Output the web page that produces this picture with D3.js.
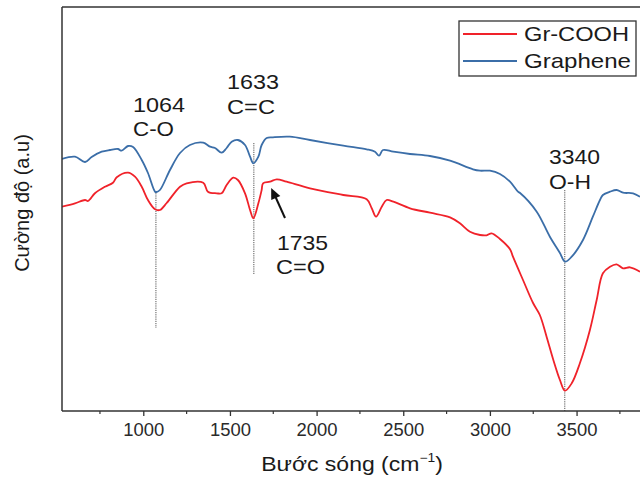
<!DOCTYPE html>
<html><head><meta charset="utf-8">
<script src="https://cdn.jsdelivr.net/npm/d3@7"></script>
<style>
html,body{margin:0;padding:0;background:#fff;}
svg{display:block;font-family:"Liberation Sans",Arial,sans-serif;}
</style></head>
<body>
<svg id="chart" width="640" height="481"></svg>
<script>
// ---- data ----
const grapheneWave = [531,606,664,702,760,808,854,875,912,941,991,1027,1068,1076,1096,1154,1212,1269,1346,1385,1414,1452,1481,1510,1546,1587,1616,1635,1664,1683,1712,1748,1846,1962,2154,2289,2337,2360,2383,2443,2539,2654,2770,2902,2943,3000,3058,3116,3162,3174,3270,3346,3404,3433,3472,3537,3594,3635,3652,3693,3731,3768,3826,3866];
const grapheneVal  = [252,254.3,249,254,259.3,261,262,260.3,265,264,251,238,219.3,219,221,241,258,266,268.3,264.3,263,258.3,263,269.3,271,266,254.3,247.7,254.3,266,273,273.7,274.3,271,265.3,261.7,259.3,255.3,261,259.3,257,255,250.3,241.7,240.3,240.3,237,229.3,219.3,218,199.3,174.3,158,149.3,154.3,171,194.3,211,216,219.3,221,218.3,217.7,214.3];
const grCoohWave = [531,606,664,681,721,779,825,847,912,952,991,1027,1068,1096,1135,1212,1250,1346,1373,1424,1452,1481,1519,1546,1587,1616,1635,1664,1683,1691,1731,1770,1827,1962,2154,2289,2318,2343,2376,2404,2443,2539,2654,2770,2827,2885,2943,2981,3010,3058,3116,3133,3191,3249,3288,3327,3366,3404,3433,3472,3519,3577,3616,3652,3693,3731,3768,3808,3866];
const grCoohVal  = [204.3,207.7,211,210,217.7,224.3,228.3,233.7,238.3,234.3,224.3,211,201.7,201,208,224.3,227.7,228.3,219.3,217.7,217.7,226,233.3,231,217.7,201,192.7,207.7,221,227.7,229.3,231.7,229.3,222.7,216,211.7,202.7,194.3,204.3,211,209.3,202.7,198.3,193.7,187.7,179.3,176,175.7,177.7,172,161.7,154.3,131,108,96,74.3,51,31,20.3,27.7,47.7,81,111,137.7,144.3,146.7,142.7,143.7,139.3];
const seriesNames = ["Gr-COOH","Graphene"];
const xTicks = [1000,1500,2000,2500,3000,3500];
const xMinorTicks = [750,1250,1750,2250,2750,3250,3750];
const peakWave   = [1073,1638,3432];
const peakLabel  = ["1064","1633","3340"];
const peakBond   = ["C-O","C=C","O-H"];
const peakLineTop = [220,268,221];   // data units on intensity scale
const peakLineBottom = [83,137,0];
const annoWave = 1735, annoLabel = "1735", annoBond = "C=O";

// ---- layout ----
const L = 62, R = 640, T = 7, B = 411;
const svg = d3.select("#chart");
const x = d3.scaleLinear().domain([531, 3866]).range([L, R]);
const y = d3.scaleLinear().domain([0, 404]).range([B, T]);
const ink = "#1a1a1a";

svg.append("defs").append("clipPath").attr("id","clip")
  .append("rect").attr("x",L).attr("y",T).attr("width",R-L+5).attr("height",B-T);

// dotted peak lines
const peakG = svg.append("g");
peakWave.forEach((w,i)=>{
  peakG.append("line")
    .attr("x1",x(w)).attr("x2",x(w))
    .attr("y1",y(peakLineTop[i])).attr("y2",y(peakLineBottom[i]))
    .attr("stroke","#555").attr("stroke-width",1).attr("stroke-dasharray","1.2,1");
});

// curves
const line = d3.line().x(d=>x(d[0])).y(d=>y(d[1])).curve(d3.curveCatmullRom.alpha(0.5));
const curves = svg.append("g").attr("clip-path","url(#clip)");
curves.append("path").datum(d3.zip(grapheneWave, grapheneVal))
  .attr("d",line).attr("fill","none").attr("stroke","#3b6ea8").attr("stroke-width",1.8);
curves.append("path").datum(d3.zip(grCoohWave, grCoohVal))
  .attr("d",line).attr("fill","none").attr("stroke","#f0222a").attr("stroke-width",1.8);

// frame (left, top) and axis
svg.append("line").attr("x1",L).attr("x2",R).attr("y1",T).attr("y2",T).attr("stroke","#333").attr("stroke-width",1.5);
svg.append("line").attr("x1",L).attr("x2",L).attr("y1",T).attr("y2",B).attr("stroke","#333").attr("stroke-width",1.5);

const xAxis = d3.axisBottom(x).tickValues(xTicks).tickFormat(d3.format("d")).tickSize(5).tickSizeOuter(0).tickPadding(7);
const ax = svg.append("g").attr("transform",`translate(0,${B})`).call(xAxis);
ax.select(".domain").attr("stroke","#333").attr("stroke-width",1.5).attr("d",`M${L},0H${R+5}`);
ax.selectAll(".tick line").attr("stroke","#333").attr("stroke-width",1.3);
ax.selectAll(".tick text").attr("font-size",18).attr("fill","#2a2a2a").attr("font-family","Liberation Sans, Arial, sans-serif")
  .attr("textLength",41).attr("lengthAdjust","spacingAndGlyphs");
svg.append("g").attr("transform",`translate(0,${B})`)
  .selectAll("line").data(xMinorTicks).join("line")
  .attr("x1",d=>x(d)).attr("x2",d=>x(d)).attr("y1",0).attr("y2",3)
  .attr("stroke","#333").attr("stroke-width",1.2);

// axis titles
const xt = svg.append("text").attr("transform","translate(352,471) scale(1.15,1)").attr("text-anchor","middle")
  .attr("font-size",20).attr("fill",ink);
xt.append("tspan").text("Bước sóng (cm");
xt.append("tspan").attr("font-size",12).attr("dy",-9).text("−1");
xt.append("tspan").attr("dy",9).text(")");

svg.append("text").attr("transform","translate(29,203) rotate(-90)").attr("text-anchor","middle")
  .attr("font-size",20).attr("fill",ink).text("Cường độ (a.u)");

// helper for stretched labels
function label(tx, tx0, ty, w){
  svg.append("text").attr("x",tx0).attr("y",ty).attr("font-size",21).attr("fill",ink)
    .attr("textLength",w).attr("lengthAdjust","spacingAndGlyphs").text(tx);
}
// peak annotations
const labelPos = [[133,112,136,52,41],[227,89,114,52,48],[549,164,189,51,42]];
peakWave.forEach((w,i)=>{
  const [lx, y1, y2, w1, w2] = labelPos[i];
  label(peakLabel[i], lx, y1, w1);
  label(peakBond[i], lx, y2, w2);
});
label(annoLabel, 277, 250, 51);
label(annoBond, 276, 274, 49);

// arrow to 1735 shoulder
const tipX = x(annoWave) + 0.5, tipY = 188;
svg.append("line").attr("x1",285).attr("y1",218).attr("x2",tipX+3).attr("y2",tipY+6)
  .attr("stroke","#111").attr("stroke-width",2);
{
  const ang = Math.atan2(tipY-218, tipX-285);
  const len = 11, wid = 5;
  const bx = tipX - len*Math.cos(ang), by = tipY - len*Math.sin(ang);
  const px = -Math.sin(ang)*wid, py = Math.cos(ang)*wid;
  svg.append("path").attr("d",`M${tipX},${tipY}L${bx+px},${by+py}L${bx-px},${by-py}Z`).attr("fill","#111");
}

// legend
const lg = svg.append("g");
lg.append("rect").attr("x",459).attr("y",21).attr("width",177).attr("height",55)
  .attr("fill","#fff").attr("stroke","#333").attr("stroke-width",1.3);
const legColors = ["#f0222a","#3b6ea8"];
const legW = [105,107];
seriesNames.forEach((n,i)=>{
  const yy = 34 + i*27;
  lg.append("line").attr("x1",463).attr("x2",517).attr("y1",yy).attr("y2",yy).attr("stroke",legColors[i]).attr("stroke-width",1.8);
  lg.append("text").attr("x",524).attr("y",yy+7).attr("font-size",21).attr("fill",ink)
    .attr("textLength",legW[i]).attr("lengthAdjust","spacingAndGlyphs").text(n);
});
</script>
</body></html>
